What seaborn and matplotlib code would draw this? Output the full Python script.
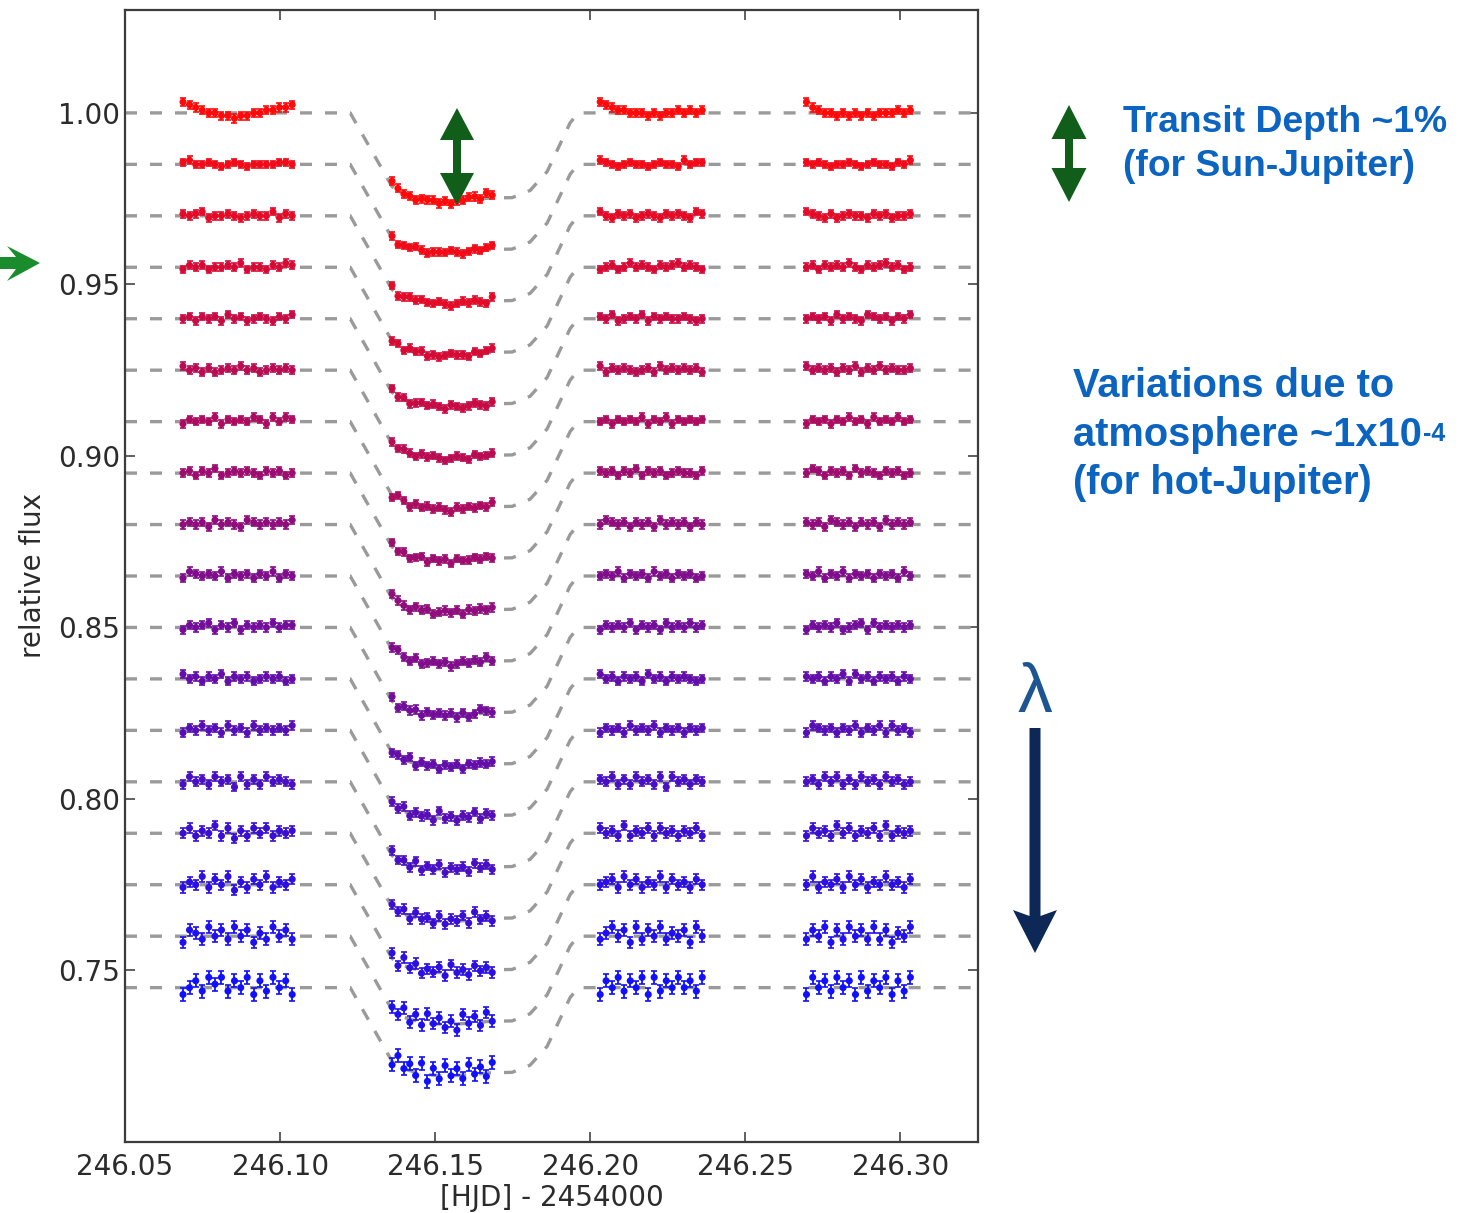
import numpy as np
import pandas as pd
import matplotlib
matplotlib.use("Agg")
import matplotlib.pyplot as plt
from matplotlib.patches import Polygon
import seaborn as sns

# ---------------------------------------------------------------------------
# Observation times (HJD - 2454000) for the four visits
visit1_times = [246.0687, 246.0708, 246.0728, 246.0749, 246.0770, 246.0790,
                246.0811, 246.0832, 246.0853, 246.0873, 246.0894, 246.0915,
                246.0935, 246.0956, 246.0977, 246.0998, 246.1018, 246.1039]
visit2_times = [246.1361, 246.1380, 246.1399, 246.1418, 246.1437, 246.1456,
                246.1475, 246.1494, 246.1513, 246.1532, 246.1551, 246.1570,
                246.1589, 246.1608, 246.1627, 246.1646, 246.1665, 246.1684]
visit3_times = [246.2032, 246.2051, 246.2071, 246.2090, 246.2109, 246.2129,
                246.2148, 246.2167, 246.2187, 246.2206, 246.2226, 246.2245,
                246.2264, 246.2284, 246.2303, 246.2322, 246.2342, 246.2361]
visit4_times = [246.2697, 246.2717, 246.2736, 246.2756, 246.2776, 246.2795,
                246.2815, 246.2835, 246.2855, 246.2874, 246.2894, 246.2914,
                246.2933, 246.2953, 246.2973, 246.2992, 246.3012, 246.3032]

# Transit depth of the model at the in-transit exposures (visit 2)
transit_depth = [0.0215, 0.0228, 0.0236, 0.0242, 0.0246, 0.0250, 0.0253,
                 0.0255, 0.0256, 0.0257, 0.0257, 0.0256, 0.0255, 0.0254,
                 0.0252, 0.0251, 0.0249, 0.0248]

# Model light-curve nodes outside the in-transit exposures
model_pre_times = [246.05, 246.1226]
model_pre_depth = [0.0, 0.0]
model_post_times = [246.1748, 246.1806, 246.1861, 246.1935, 246.1961, 246.325]
model_post_depth = [0.0247, 0.0226, 0.0171, 0.0029, 0.0, 0.0]

# Out-of-transit level of each spectral channel (red at top, blue at bottom)
channel_baseline = [1.000, 0.985, 0.970, 0.955, 0.940, 0.925, 0.910, 0.895,
                    0.880, 0.865, 0.850, 0.835, 0.820, 0.805, 0.790, 0.775,
                    0.760, 0.745]
# Flux step per residual unit and photometric error of each channel
channel_noise = [0.0008, 0.0006, 0.0006, 0.0006, 0.0006, 0.0006, 0.00065,
                 0.00065, 0.00065, 0.00065, 0.00065, 0.0007, 0.0007, 0.00075,
                 0.00075, 0.0008, 0.0009, 0.001]
channel_err = [0.0012, 0.0011, 0.0011, 0.0011, 0.0011, 0.0011, 0.0011,
               0.0011, 0.0012, 0.0012, 0.0012, 0.0012, 0.0013, 0.0013,
               0.0014, 0.0015, 0.0017, 0.0019]

# Residuals of every exposure, one digit per point (4 = on the model),
# four visits per channel separated by spaces
channel_residuals = [
    "876544332334455667 654434443434455465 876554443434454545 865443434343444545",
    "564454345434444554 534454344454345456 654345443454436455 545434454345443546",
    "545634454345446354 634545445434545436 643545345435454365 654353454435453445",
    "354534454634435465 453545343454435456 345346454354564543 453545464354564534",
    "453545364534543546 645345454354345435 546345463545445434 454536454365453546",
    "645353454645345454 545435454345435445 635454345364545453 645453546354645445",
    "354546354546536465 365354545435454546 453545463546354545 354535464536454645",
    "453546345454354534 645345354535445454 545354635453454435 465354536454354534",
    "454536454365454546 654354534545354545 465453545364545354 545365453545364545",
    "365454635453546354 564353454534545464 454635453645354534 546354635453545364",
    "354563546354546455 635453545453534654 354546354536454645 354546345636454545",
    "645354635453454534 454635453545354545 645354536453545434 545354636453545354",
    "354645364536454546 546354537453546354 354536454635453545 365453546354636453",
    "364536452635364543 645363546354536453 546353645362645354 453646353645364534",
    "463547362536463545 546364536354637453 645373546364535463 364537463546373545",
    "354736472536473546 637463546374536453 456374635473645364 473546374635474536",
    "265374637462537463 547363746352746374 357462736473546274 364726374637362547",
    "246375736472637462 374637263746374637 264736472736474637 274637462736472637",
]

x_ticks = [246.05, 246.10, 246.15, 246.20, 246.25, 246.30]
y_ticks = [0.75, 0.80, 0.85, 0.90, 0.95, 1.00]

# ---------------------------------------------------------------------------
visit_times = [visit1_times, visit2_times, visit3_times, visit4_times]
visit_depth = [[0.0] * len(visit1_times), transit_depth,
               [0.0] * len(visit3_times), [0.0] * len(visit4_times)]

rows = []
for ch, (base, step, err, resid) in enumerate(
        zip(channel_baseline, channel_noise, channel_err, channel_residuals)):
    for times, depth, codes in zip(visit_times, visit_depth, resid.split()):
        assert len(codes) == len(times)
        for t, d, c in zip(times, depth, codes):
            rows.append({"channel": ch, "time": t,
                         "flux": base - d + (int(c) - 4) * step,
                         "err": err})
obs = pd.DataFrame(rows)

model_times = model_pre_times + visit2_times + model_post_times
model_depth = model_pre_depth + transit_depth + model_post_depth
model = pd.DataFrame([
    {"channel": ch, "time": t, "flux": base - d}
    for ch, base in enumerate(channel_baseline)
    for t, d in zip(model_times, model_depth)
])

palette = sns.blend_palette(["#ff0a0a", "#1010ff"], n_colors=len(channel_baseline))

# ---------------------------------------------------------------------------
sns.set_style("ticks")
plt.rcParams["font.family"] = ["DejaVu Sans"]

W, H = 1480, 1213
fig = plt.figure(figsize=(W / 100, H / 100), dpi=100)
ax = fig.add_axes([125 / W, 1 - 1142 / H, (978 - 125) / W, (1142 - 10) / H])

# Model curves (dashed grey)
sns.lineplot(data=model, x="time", y="flux", units="channel", estimator=None,
             color="#9a9a9a", lw=2.4, ax=ax, legend=False, zorder=1, sort=False)
for ln in ax.get_lines():
    ln.set_dashes([3.6, 3.9])

# Error bars and points per channel
for ch, grp in obs.groupby("channel"):
    ax.errorbar(grp["time"], grp["flux"], yerr=grp["err"], fmt="none",
                ecolor=palette[ch], elinewidth=1.3, capsize=2.0, capthick=1.2,
                zorder=2)
sns.scatterplot(data=obs, x="time", y="flux", hue="channel", palette=palette,
                s=26, linewidth=0, ax=ax, legend=False, zorder=3)

ax.set_xlim(246.05, 246.325)
ax.set_ylim(0.70, 1.03)
ax.set_xticks(x_ticks)
ax.set_xticklabels([f"{v:.2f}" for v in x_ticks])
ax.set_yticks(y_ticks)
ax.set_yticklabels([f"{v:.2f}" for v in y_ticks])
ax.tick_params(direction="in", length=7, width=1.2, labelsize=20,
               labelcolor="#2b2b2b", color="#444444",
               top=True, right=True)
ax.tick_params(axis="x", pad=8)
for sp in ax.spines.values():
    sp.set_color("#3c3c3c")
    sp.set_linewidth(1.6)
ax.set_xlabel("[HJD] - 2454000", fontsize=20, color="#2b2b2b", labelpad=2)
ax.set_ylabel("relative flux", fontsize=20, color="#2b2b2b", labelpad=8)


# ---------------------------------------------------------------------------
# Annotations drawn in figure pixel space
def fp(x, y):
    return (x / W, 1 - y / H)


def double_arrow(cx, top, bot, head_len, head_half, shaft_half, color):
    pts = [(cx, top), (cx + head_half, top + head_len),
           (cx + shaft_half, top + head_len), (cx + shaft_half, bot - head_len),
           (cx + head_half, bot - head_len), (cx, bot),
           (cx - head_half, bot - head_len), (cx - shaft_half, bot - head_len),
           (cx - shaft_half, top + head_len), (cx - head_half, top + head_len)]
    fig.patches.append(Polygon([fp(*p) for p in pts], closed=True,
                               transform=fig.transFigure, facecolor=color,
                               edgecolor="none", zorder=10))


# depth marker inside the plot and its key on the right
double_arrow(457, 108, 205, 32, 17, 4, "#115e1b")
double_arrow(1069, 105, 202, 34, 17.5, 4, "#115e1b")

# green pointer on the left
left_arrow = [(0, 257), (16, 257), (7, 246), (40, 263), (7, 281), (16, 269), (0, 269)]
fig.patches.append(Polygon([fp(*p) for p in left_arrow], closed=True,
                           transform=fig.transFigure, facecolor="#1a8c2d",
                           edgecolor="none", zorder=10))

# wavelength arrow
lam_arrow = [(1029.5, 728), (1040.5, 728), (1040.5, 916), (1057, 910),
             (1035, 953), (1013, 910), (1029.5, 916)]
fig.patches.append(Polygon([fp(*p) for p in lam_arrow], closed=True,
                           transform=fig.transFigure, facecolor="#0d2857",
                           edgecolor="none", zorder=10))
fig.text(*fp(1035, 712), "λ", fontsize=50, color="#1d5592", ha="center",
         va="baseline", family=["Liberation Sans", "DejaVu Sans"])

txt_color = "#0b64c0"
txt_kw = dict(color=txt_color, fontweight="bold", va="baseline", ha="left",
              family=["Liberation Sans", "DejaVu Sans"])
fig.text(*fp(1123, 132), "Transit Depth ~1%", fontsize=26.8, **txt_kw)
fig.text(*fp(1123, 176), "(for Sun-Jupiter)", fontsize=26.8, **txt_kw)
fig.text(*fp(1073, 397), "Variations due to", fontsize=28.7, **txt_kw)
atm = fig.text(*fp(1073, 446), "atmosphere ~1x10", fontsize=28.7, **txt_kw)
fig.text(*fp(1073, 494), "(for hot-Jupiter)", fontsize=28.7, **txt_kw)

fig.canvas.draw()
bb = atm.get_window_extent(fig.canvas.get_renderer())
fig.text((bb.x1 + 1) / W, 1 - 441 / H, "-4", fontsize=18, **txt_kw)

fig.savefig("out.png", dpi=100)
